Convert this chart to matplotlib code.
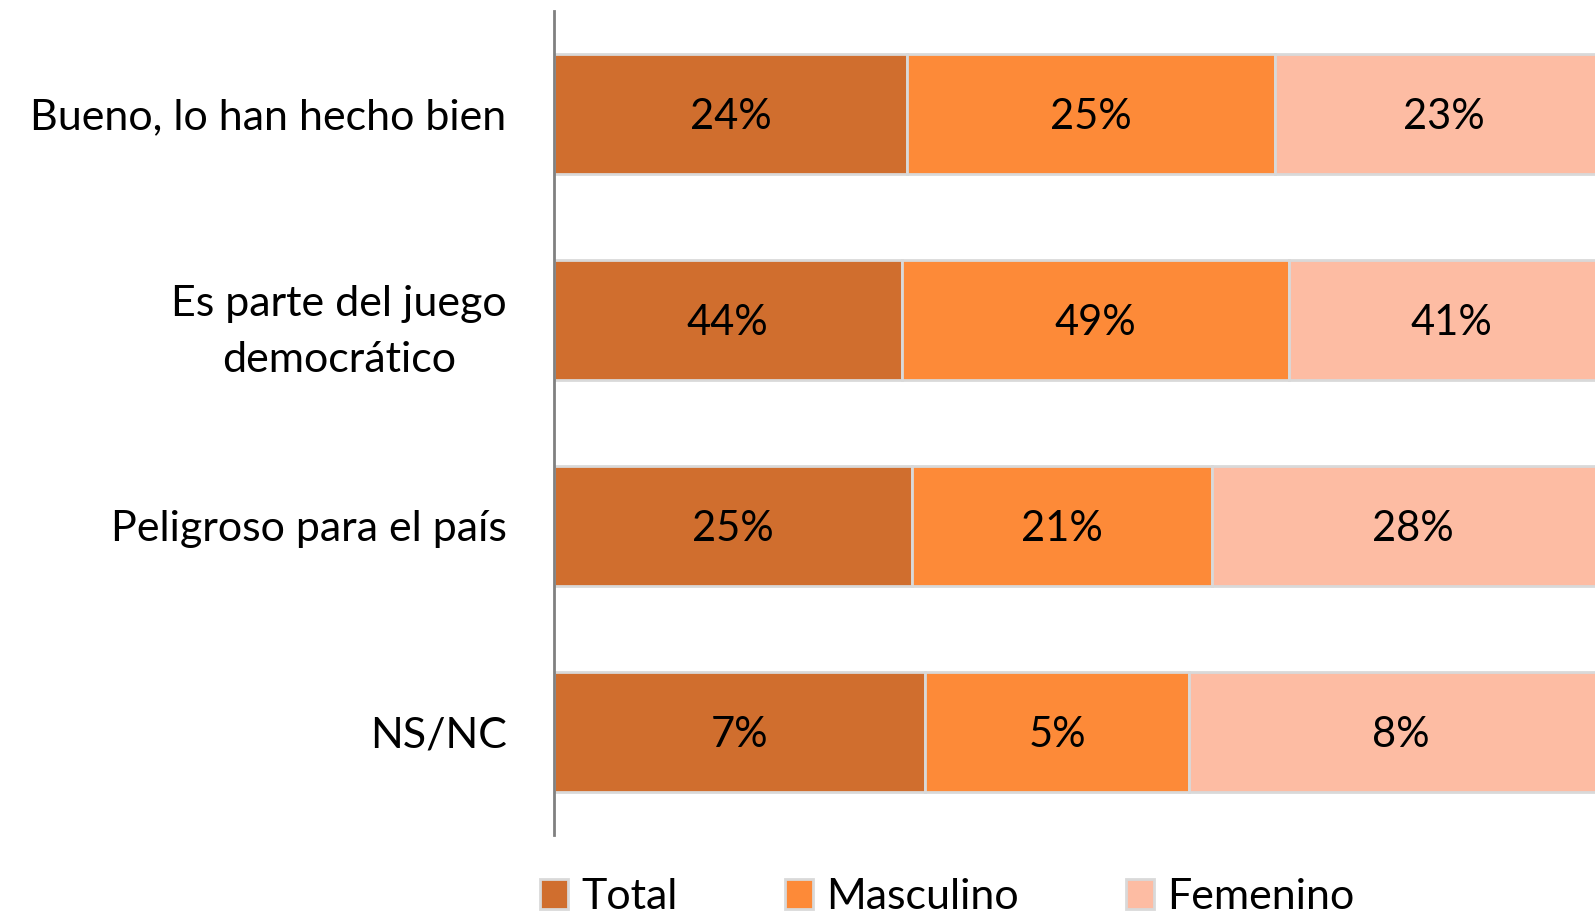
import matplotlib.pyplot as plt
import numpy as np

plt.rcParams['font.family'] = ['Lato', 'DejaVu Sans']

categorias = ["Bueno, lo han hecho bien", "Es parte del juego\ndemocrático",
              "Peligroso para el país", "NS/NC"]
series = ["Total", "Masculino", "Femenino"]
total = [24, 44, 25, 7]
masculino = [25, 49, 21, 5]
femenino = [23, 41, 28, 8]
colores = ["#D06E2E", "#FD8A38", "#FDBCA3"]

valores = np.array([total, masculino, femenino], dtype=float)
fracciones = valores / valores.sum(axis=0)

fig = plt.figure(figsize=(15.95, 9.21), dpi=100)
ax = fig.add_axes([0.3473, 0.0934, 0.664, 0.8947])

y = np.arange(len(categorias))
izquierda = np.zeros(len(categorias))
barras = []
for i, nombre in enumerate(series):
    b = ax.barh(y, fracciones[i], left=izquierda, height=0.58, color=colores[i],
                edgecolor="#d9d9d9", linewidth=2, label=nombre)
    barras.append(b)
    for j in range(len(categorias)):
        ax.text(izquierda[j] + fracciones[i][j] / 2, y[j], f"{int(valores[i][j])}%",
                ha="center", va="center_baseline", fontsize=30, color="black")
    izquierda += fracciones[i]

ax.set_xlim(0, 1)
ax.set_ylim(len(categorias) - 0.5, -0.5)
ax.set_yticks(y)
ax.set_yticklabels(categorias, fontsize=31, ha="right", multialignment="center",
                   linespacing=1.55)
ax.tick_params(axis="y", length=0, pad=34)
ax.set_xticks([])
for s in ["top", "right", "bottom"]:
    ax.spines[s].set_visible(False)
ax.spines["left"].set_color("#808080")
ax.spines["left"].set_linewidth(2)

fig.legend(handles=barras, loc="center", bbox_to_anchor=(0.594, 0.026), ncol=3,
           frameon=False, fontsize=31, handlelength=0.65, handleheight=0.7,
           handletextpad=0.3, columnspacing=2.5)

fig.savefig("out.png", dpi=100)
